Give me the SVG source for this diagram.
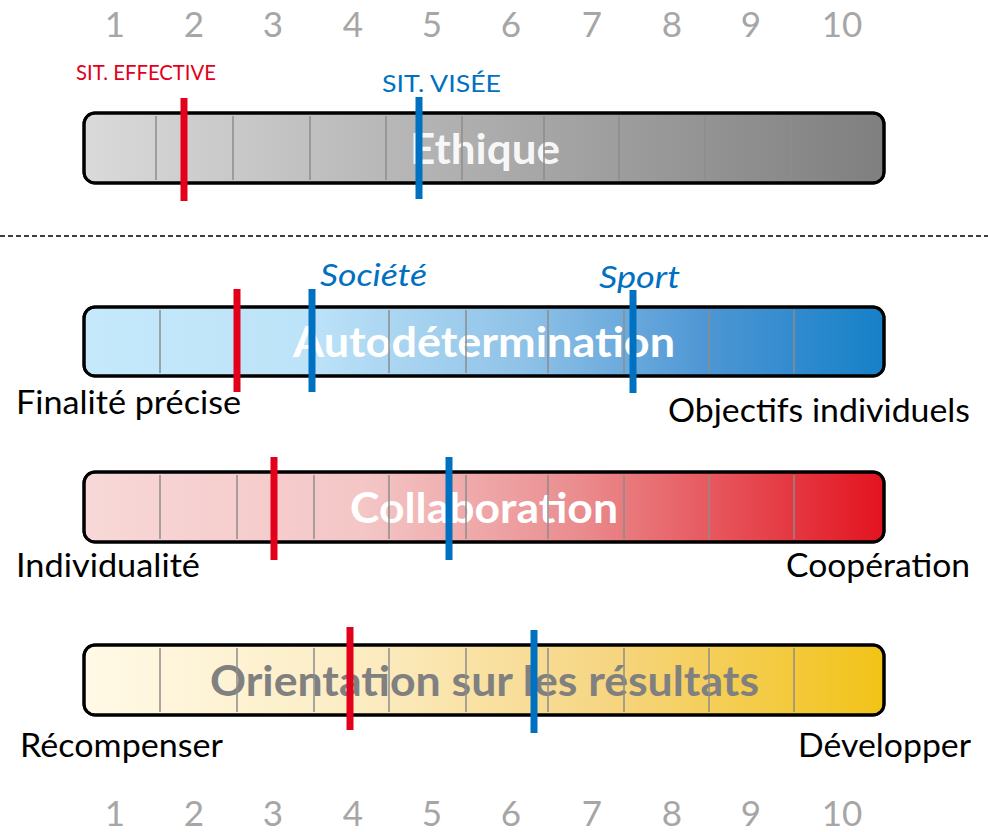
<svg xmlns="http://www.w3.org/2000/svg" width="988" height="832" viewBox="0 0 988 832">
<defs>
<linearGradient id="gGray" x1="0" y1="0" x2="1" y2="0">
<stop offset="0" stop-color="#dadada"/><stop offset="1" stop-color="#7f7f7f"/>
</linearGradient>
<linearGradient id="gBlue" x1="0" y1="0" x2="1" y2="0">
<stop offset="0" stop-color="#c5e9fb"/><stop offset="0.28" stop-color="#bde3f8"/><stop offset="0.55" stop-color="#8fc2e7"/><stop offset="0.78" stop-color="#4d96d4"/><stop offset="1" stop-color="#1580c8"/>
</linearGradient>
<linearGradient id="gRed" x1="0" y1="0" x2="1" y2="0">
<stop offset="0" stop-color="#f8d8d8"/><stop offset="0.35" stop-color="#f4c6c6"/><stop offset="0.62" stop-color="#ea8c8e"/><stop offset="1" stop-color="#e2131f"/>
</linearGradient>
<linearGradient id="gYel" x1="0" y1="0" x2="1" y2="0">
<stop offset="0" stop-color="#fff9e6"/><stop offset="0.35" stop-color="#fcecc2"/><stop offset="0.65" stop-color="#f6d683"/><stop offset="1" stop-color="#f2c317"/>
</linearGradient>
<style>
.num{font-family:Lato,"Liberation Sans",sans-serif;font-size:35px;fill:#a6a6a6;text-anchor:middle}
.side{font-family:Lato,"Liberation Sans",sans-serif;font-size:33px;fill:#000}
.title{font-family:Lato,"Liberation Sans",sans-serif;font-size:42px;font-weight:bold}
.bar{stroke:#000;stroke-width:3}
.div{stroke:#8c8c8c;stroke-width:1.5}
.red{stroke:#e2001a;stroke-width:7}
.blue{stroke:#0070c0;stroke-width:7}
.lblue{font-family:Lato,"Liberation Sans",sans-serif;fill:#0070c0}
</style>
</defs>
<rect width="988" height="832" fill="#fff"/>
<g id="scale-top">
<text class="num" x="115" y="37">1</text><text class="num" x="194" y="37">2</text><text class="num" x="273" y="37">3</text><text class="num" x="353" y="37">4</text><text class="num" x="432" y="37">5</text><text class="num" x="511" y="37">6</text><text class="num" x="592" y="37">7</text><text class="num" x="672" y="37">8</text><text class="num" x="751" y="37">9</text><text class="num" x="842" y="37">10</text>
</g>
<g id="legend">
<text x="76" y="80" font-family="Lato,'Liberation Sans',sans-serif" font-size="21" fill="#e2001a" textLength="140" lengthAdjust="spacingAndGlyphs">SIT. EFFECTIVE</text>
<text x="382" y="92" class="lblue" font-size="24" textLength="119" lengthAdjust="spacingAndGlyphs">SIT. VISÉE</text>
</g>
<g id="bar-ethique">
<rect class="bar" x="84" y="113" width="800" height="70" rx="11" fill="url(#gGray)"/>
<text class="title" x="410" y="164" fill="#fff" fill-opacity="0.92" textLength="150" lengthAdjust="spacingAndGlyphs">Ethique</text>
<g class="div"><line x1="156" y1="116" x2="156" y2="180"/><line x1="233" y1="116" x2="233" y2="180"/><line x1="310" y1="116" x2="310" y2="180"/><line x1="386" y1="116" x2="386" y2="180"/><line x1="462" y1="116" x2="462" y2="180"/><line x1="544" y1="116" x2="544" y2="180"/><line x1="619" y1="116" x2="619" y2="180"/><line x1="705" y1="116" x2="705" y2="180"/><line x1="791" y1="116" x2="791" y2="180"/></g>
<rect x="84" y="113" width="800" height="70" rx="11" fill="none" stroke="#000" stroke-width="3"/>
<line class="red" x1="184" y1="98" x2="184" y2="201"/>
<line class="blue" x1="419" y1="97" x2="419" y2="199"/>
</g>
<g id="separator">
<line x1="0" y1="236" x2="988" y2="236" stroke="#000" stroke-width="1.3" stroke-dasharray="5 3"/>
</g>
<g id="bar-autodetermination">
<text x="320" y="286" class="lblue" font-size="30" font-style="italic" textLength="107" lengthAdjust="spacingAndGlyphs">Société</text>
<text x="599" y="288" class="lblue" font-size="30" font-style="italic" textLength="81" lengthAdjust="spacingAndGlyphs">Sport</text>
<rect class="bar" x="84" y="307" width="800" height="69" rx="11" fill="url(#gBlue)"/>
<text class="title" x="293" y="357" fill="#fff" textLength="382" lengthAdjust="spacingAndGlyphs">Autodétermination</text>
<g class="div"><line x1="160" y1="310" x2="160" y2="373"/><line x1="237" y1="310" x2="237" y2="373"/><line x1="314" y1="310" x2="314" y2="373"/><line x1="389" y1="310" x2="389" y2="373"/><line x1="466" y1="310" x2="466" y2="373"/><line x1="548" y1="310" x2="548" y2="373"/><line x1="624" y1="310" x2="624" y2="373"/><line x1="709" y1="310" x2="709" y2="373"/><line x1="794" y1="310" x2="794" y2="373"/></g>
<rect x="84" y="307" width="800" height="69" rx="11" fill="none" stroke="#000" stroke-width="3"/>
<line class="red" x1="237" y1="289" x2="237" y2="392"/>
<line class="blue" x1="312" y1="289" x2="312" y2="392"/>
<line class="blue" x1="633" y1="290" x2="633" y2="393"/>
<text class="side" x="16" y="414" textLength="225" lengthAdjust="spacingAndGlyphs">Finalité précise</text>
<text class="side" x="668" y="422" textLength="302" lengthAdjust="spacingAndGlyphs">Objectifs individuels</text>
</g>
<g id="bar-collaboration">
<rect class="bar" x="84" y="472" width="800" height="70" rx="11" fill="url(#gRed)"/>
<text class="title" x="350" y="523" fill="#fff" textLength="268" lengthAdjust="spacingAndGlyphs">Collaboration</text>
<g class="div"><line x1="160" y1="475" x2="160" y2="539"/><line x1="237" y1="475" x2="237" y2="539"/><line x1="314" y1="475" x2="314" y2="539"/><line x1="389" y1="475" x2="389" y2="539"/><line x1="466" y1="475" x2="466" y2="539"/><line x1="548" y1="475" x2="548" y2="539"/><line x1="624" y1="475" x2="624" y2="539"/><line x1="709" y1="475" x2="709" y2="539"/><line x1="794" y1="475" x2="794" y2="539"/></g>
<rect x="84" y="472" width="800" height="70" rx="11" fill="none" stroke="#000" stroke-width="3"/>
<line class="red" x1="274" y1="457" x2="274" y2="560"/>
<line class="blue" x1="449" y1="457" x2="449" y2="560"/>
<text class="side" x="16" y="577" textLength="184" lengthAdjust="spacingAndGlyphs">Individualité</text>
<text class="side" x="786" y="577" textLength="184" lengthAdjust="spacingAndGlyphs">Coopération</text>
</g>
<g id="bar-orientation">
<rect class="bar" x="84" y="645" width="800" height="70" rx="11" fill="url(#gYel)"/>
<text class="title" x="210" y="696" fill="#808080" textLength="549" lengthAdjust="spacingAndGlyphs">Orientation sur les résultats</text>
<g class="div"><line x1="160" y1="648" x2="160" y2="712"/><line x1="237" y1="648" x2="237" y2="712"/><line x1="314" y1="648" x2="314" y2="712"/><line x1="389" y1="648" x2="389" y2="712"/><line x1="466" y1="648" x2="466" y2="712"/><line x1="548" y1="648" x2="548" y2="712"/><line x1="624" y1="648" x2="624" y2="712"/><line x1="709" y1="648" x2="709" y2="712"/><line x1="794" y1="648" x2="794" y2="712"/></g>
<rect x="84" y="645" width="800" height="70" rx="11" fill="none" stroke="#000" stroke-width="3"/>
<line class="red" x1="350" y1="627" x2="350" y2="730"/>
<line class="blue" x1="534" y1="630" x2="534" y2="733"/>
<text class="side" x="20" y="757" textLength="203" lengthAdjust="spacingAndGlyphs">Récompenser</text>
<text class="side" x="798" y="757" textLength="173" lengthAdjust="spacingAndGlyphs">Développer</text>
</g>
<g id="scale-bottom">
<text class="num" x="115" y="826">1</text><text class="num" x="194" y="826">2</text><text class="num" x="273" y="826">3</text><text class="num" x="353" y="826">4</text><text class="num" x="432" y="826">5</text><text class="num" x="511" y="826">6</text><text class="num" x="592" y="826">7</text><text class="num" x="672" y="826">8</text><text class="num" x="751" y="826">9</text><text class="num" x="842" y="826">10</text>
</g>
</svg>
